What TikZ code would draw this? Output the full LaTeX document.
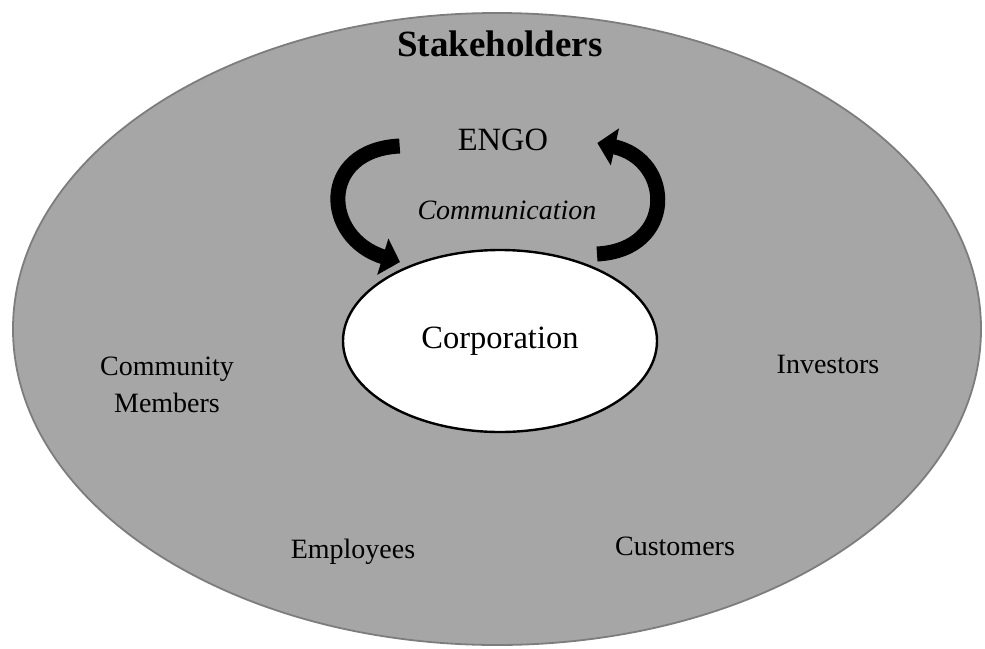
\documentclass[tikz,border=0pt]{standalone}
\usepackage{fontspec}
\setmainfont{Liberation Serif}
\usetikzlibrary{shapes.geometric}
\usetikzlibrary{arrows.meta}
\usetikzlibrary{positioning}

\definecolor{fieldgray}{RGB}{166,166,166}
\definecolor{rimgray}{RGB}{125,125,125}

\tikzset{
    grouptext/.style={font=\fontsize{28}{37}\selectfont, align=center, inner sep=0pt},
    bigtext/.style={font=\fontsize{32.5}{38}\selectfont, inner sep=0pt},
    commarrow/.style={line width=15pt, -{Triangle[length=18pt,width=37pt]}},
}

\begin{document}
\begin{tikzpicture}[x=1pt,y=-1pt]
    \useasboundingbox (0,0) rectangle (985,648);
    %Outer field
        \draw[fill=fieldgray, draw=rimgray, line width=1.8pt] (497,329) ellipse [x radius=484, y radius=316];
    %Center
        \node[ellipse, draw, fill=white, line width=2.4pt, minimum width=314pt, minimum height=182pt] (corp) at (500,341) {};
        \node[bigtext] (corptext) at (corp.center) {Corporation};
    %Titles
        \node[font=\fontsize{37}{40}\selectfont\bfseries, inner sep=0pt] (stake) at (500,44) {Stakeholders};
        \node[bigtext] (engo) at (503,140) {ENGO};
        \node[grouptext, font=\fontsize{28}{37}\selectfont\itshape] (comm) at (507,210) {Communication};
    %Groups
        \node[grouptext] (community) at (167,385) {Community\\Members};
        \node[grouptext] (investors) at (828,364) {Investors};
        \node[grouptext] (employees) at (353,552) {Employees};
        \node[grouptext] (customers) at (675,546) {Customers};
    %Arrows
        \coordinate (ltop) at ([xshift=-58pt,yshift=-6pt]engo.west);
        \coordinate (lend) at ([shift={(-100pt,79pt)}]corp.center);
        \coordinate (rbot) at ([shift={(97pt,87pt)}]corp.center);
        \coordinate (rend) at ([xshift=49pt,yshift=-3pt]engo.east);
        \draw[commarrow] (ltop) .. controls (318,150) and (322,238) .. (lend);
        \draw[commarrow] (rbot) .. controls (676,250) and (674,160) .. (rend);
\end{tikzpicture}
\end{document}
